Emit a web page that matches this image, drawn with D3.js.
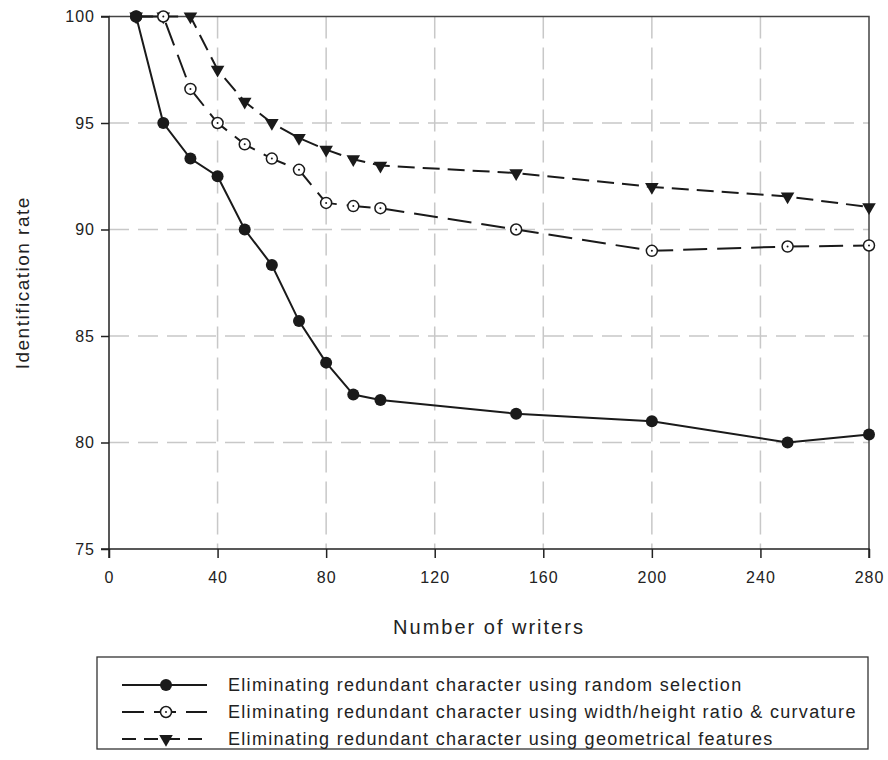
<!DOCTYPE html>
<html>
<head>
<meta charset="utf-8">
<script src="https://cdn.jsdelivr.net/npm/d3@7"></script>
<style>
  body { margin: 0; background: #fff; }
  svg { display: block; font-family: "Liberation Sans", Arial, sans-serif; }
</style>
</head>
<body>
<div id="chart"></div>
<script>
const writers = [10, 20, 30, 40, 50, 60, 70, 80, 90, 100, 150, 200, 250, 280];
const randomSel = [100, 95, 93.33, 92.5, 90, 88.33, 85.7, 83.75, 82.25, 82, 81.35, 81, 80, 80.38];
const ratioCurv = [100, 100, 96.6, 95, 94, 93.33, 92.8, 91.25, 91.1, 91, 90, 89, 89.2, 89.25];
const geomFeat = [100, 100, 100, 97.5, 96, 95, 94.3, 93.75, 93.3, 93, 92.65, 92, 91.55, 91.05];
const xTicks = [0, 40, 80, 120, 160, 200, 240, 280];
const yTicks = [75, 80, 85, 90, 95, 100];
const legendLabels = [
  "Eliminating redundant character using random selection",
  "Eliminating redundant character using width/height ratio & curvature",
  "Eliminating redundant character using geometrical features"
];

let dim = {'width': 888, 'height': 760};
let plot = {left: 109, right: 869, top: 16.5, bottom: 549};

let svg = d3.select('#chart').append('svg')
    .attr('width', dim.width)
    .attr('height', dim.height);

let scaleX = d3.scaleLinear().domain([0, 280]).range([plot.left, plot.right]);
let scaleY = d3.scaleLinear().domain([75, 100]).range([plot.bottom, plot.top]);

// grid
svg.append('g').selectAll('line')
    .data(xTicks.filter(d => d > 0 && d < 280))
    .enter().append('line')
    .attr('x1', d => scaleX(d)).attr('x2', d => scaleX(d))
    .attr('y1', plot.top).attr('y2', plot.bottom)
    .attr('stroke', '#c8c8c8').attr('stroke-width', 1.5)
    .attr('stroke-dasharray', '22,9');

svg.append('g').selectAll('line')
    .data(yTicks.filter(d => d > 75 && d < 100))
    .enter().append('line')
    .attr('x1', plot.left).attr('x2', plot.right)
    .attr('y1', d => scaleY(d)).attr('y2', d => scaleY(d))
    .attr('stroke', '#c8c8c8').attr('stroke-width', 1.5)
    .attr('stroke-dasharray', '20,9');

// frame top/right
svg.append('path')
    .attr('d', `M${plot.left},${plot.top}H${plot.right}V${plot.bottom}`)
    .attr('fill', 'none').attr('stroke', '#444').attr('stroke-width', 1.5);

// axes
let axisX = d3.axisBottom(scaleX).tickValues(xTicks).tickSize(9).tickPadding(14);
let axisY = d3.axisLeft(scaleY).tickValues(yTicks).tickSize(8).tickPadding(6);

let gx = svg.append('g')
    .attr('transform', `translate(0,${plot.bottom})`)
    .call(axisX);
let gy = svg.append('g')
    .attr('transform', `translate(${plot.left},0)`)
    .call(axisY);

[gx, gy].forEach(g => {
  g.select('.domain').attr('stroke', '#222').attr('stroke-width', 1.5);
  g.selectAll('.tick line').attr('stroke', '#222').attr('stroke-width', 1.5);
  g.selectAll('.tick text')
    .attr('font-family', '"Liberation Sans", Arial, sans-serif')
    .attr('font-size', 16).attr('letter-spacing', 1).attr('fill', '#222');
});
gx.select('.domain').attr('d', `M${plot.left},9V0H${plot.right}V9`);
gy.select('.domain').attr('d', `M-8,${plot.bottom}H0V${plot.top}H-8`);

svg.append('text')
    .attr('transform', `translate(29,${(plot.top + plot.bottom) / 2}) rotate(-90)`)
    .attr('text-anchor', 'middle')
    .attr('font-size', 19).attr('letter-spacing', 1.5).attr('fill', '#222')
    .text('Identification rate');

svg.append('text')
    .attr('x', (plot.left + plot.right) / 2).attr('y', 634)
    .attr('text-anchor', 'middle')
    .attr('font-size', 20).attr('letter-spacing', 2).attr('fill', '#222')
    .text('Number of writers');

// series
let series = [
  {name: legendLabels[2], values: geomFeat, dash: '17,8', marker: 'tri'},
  {name: legendLabels[1], values: ratioCurv, dash: '24,10', marker: 'open'},
  {name: legendLabels[0], values: randomSel, dash: null, marker: 'fill'}
];

let line = d3.line()
    .x((d, i) => scaleX(writers[i]))
    .y(d => scaleY(d));

let tri = d3.symbol().type(d3.symbolTriangle).size(80);

function drawMarker(g, kind) {
  if (kind === 'fill') {
    g.append('circle').attr('r', 6).attr('fill', '#1a1a1a');
  } else if (kind === 'open') {
    g.append('circle').attr('r', 5.5).attr('fill', '#fff')
      .attr('stroke', '#1a1a1a').attr('stroke-width', 1.5);
    g.append('circle').attr('r', 1).attr('fill', '#1a1a1a');
  } else {
    g.append('path').attr('d', tri()).attr('transform', 'rotate(180)')
      .attr('fill', '#1a1a1a');
  }
}

series.forEach(s => {
  svg.append('path')
    .attr('d', line(s.values))
    .attr('fill', 'none')
    .attr('stroke', '#1a1a1a')
    .attr('stroke-width', 2)
    .attr('stroke-dasharray', s.dash);
  svg.append('g').selectAll('g')
    .data(s.values)
    .enter().append('g')
    .attr('transform', (d, i) => `translate(${scaleX(writers[i])},${scaleY(d)})`)
    .each(function() { drawMarker(d3.select(this), s.marker); });
});

// legend
let legend = svg.append('g');
legend.append('rect')
    .attr('x', 97).attr('y', 657).attr('width', 771).attr('height', 92)
    .attr('fill', 'none').attr('stroke', '#333').attr('stroke-width', 1.3);

let legendItems = [
  {label: legendLabels[0], dash: null, marker: 'fill'},
  {label: legendLabels[1], dash: '22,10', marker: 'open'},
  {label: legendLabels[2], dash: '14,8', marker: 'tri'}
];
let rowY = d3.scalePoint().domain(d3.range(3)).range([685, 739]);

legendItems.forEach((it, i) => {
  let row = legend.append('g').attr('transform', `translate(0,${rowY(i)})`);
  row.append('line')
    .attr('x1', 122).attr('x2', 207)
    .attr('stroke', '#1a1a1a').attr('stroke-width', 2)
    .attr('stroke-dasharray', it.dash);
  drawMarker(row.append('g').attr('transform', 'translate(166,0)'), it.marker);
  row.append('text')
    .attr('x', 228).attr('y', 6)
    .attr('font-size', 18).attr('letter-spacing', 1.3).attr('fill', '#222')
    .text(it.label);
});
</script>
</body>
</html>
